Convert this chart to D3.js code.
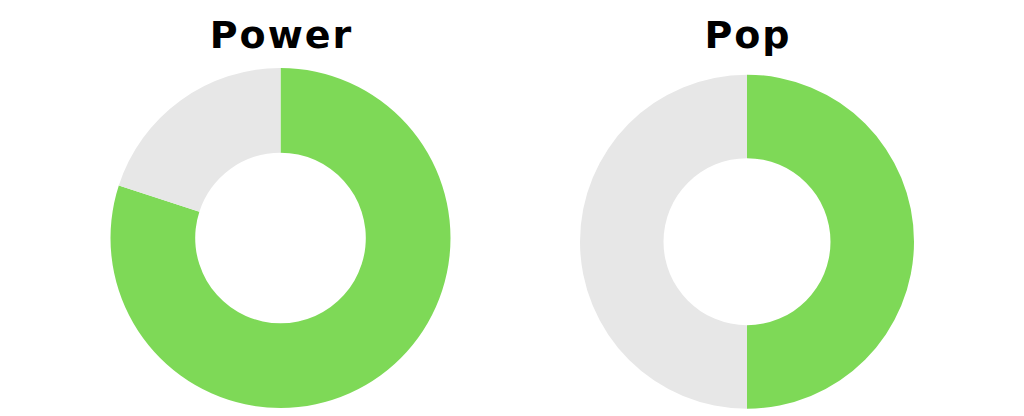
<!DOCTYPE html>
<html lang="en">
	<head>
		<meta charset="utf-8">
		<title>Power / Pop</title>
		<script src="https://cdnjs.cloudflare.com/ajax/libs/d3/7.1.1/d3.min.js"></script>
		<style type="text/css">
			body { margin: 0; background: white; }
			.title {
				font-family: "DejaVu Sans", sans-serif;
				font-weight: bold;
				font-size: 38px;
				letter-spacing: 2px;
				fill: #000;
			}
		</style>
	</head>
	<body>
		<div id="chart"></div>
		<script type="text/javascript">

			// data
			const titles = ["Power", "Pop"];
			const filled = [80, 50];      // green share
			const rest = [20, 50];        // grey share

			const width = 1024;
			const height = 416;

			// layout per donut (center, radii)
			const donuts = [
				{cx: 280.5, cy: 238, outer: 170, inner: 85.3, titleY: 48},
				{cx: 747, cy: 241.7, outer: 167, inner: 83.5, titleY: 48}
			];

			const color = d3.scaleOrdinal()
				.domain(["filled", "rest"])
				.range(["#7ED957", "#E7E7E7"]);

			const svg = d3.select("#chart")
				.append("svg")
				.attr("width", width)
				.attr("height", height);

			const pie = d3.pie()
				.sort(null)
				.value(d => d.value);

			titles.forEach(function(t, i) {
				const pos = donuts[i];
				const data = [
					{key: "filled", value: filled[i]},
					{key: "rest", value: rest[i]}
				];

				const arc = d3.arc()
					.innerRadius(pos.inner)
					.outerRadius(pos.outer);

				const g = svg.append("g")
					.attr("transform", "translate(" + pos.cx + "," + pos.cy + ")");

				g.selectAll("path")
					.data(pie(data))
					.enter()
					.append("path")
						.attr("d", arc)
						.attr("fill", d => color(d.data.key));

				// letter-spacing adds a trailing gap, nudge by 1px to keep centred
				svg.append("text")
					.attr("class", "title")
					.attr("x", pos.cx + 1)
					.attr("y", pos.titleY)
					.attr("text-anchor", "middle")
					.text(t);
			});

		</script>
	</body>
</html>
